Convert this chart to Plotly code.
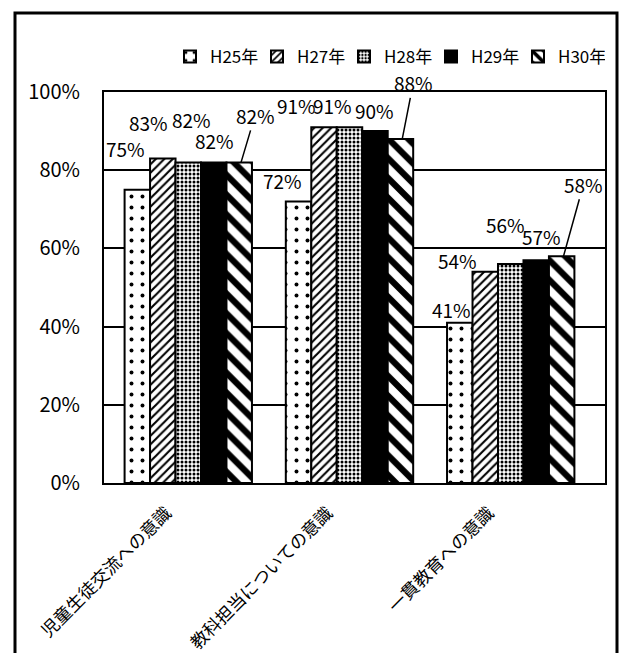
import plotly.graph_objects as go

# ---- data ----
categories = ["児童生徒交流への意識", "教科担当についての意識", "一貫教育への意識"]
years = ["H25年", "H27年", "H28年", "H29年", "H30年"]
h25 = [75, 72, 41]
h27 = [83, 91, 54]
h28 = [82, 91, 56]
h29 = [82, 90, 57]
h30 = [82, 88, 58]
series = [h25, h27, h28, h29, h30]
y_ticks = [0, 20, 40, 60, 80, 100]

# ---- style ----
FONT = "Noto Sans CJK JP"
W, H = 620, 653
ML, MR, MT, MB = 104, 15, 92, 170
BARGAP = 0.21
patterns = [
    dict(shape=".", fgcolor="black", bgcolor="white", size=11, solidity=0.1, fillmode="replace"),
    dict(shape="/", fgcolor="black", bgcolor="white", size=6, solidity=0.35, fillmode="replace"),
    dict(shape=".", fgcolor="black", bgcolor="white", size=4, solidity=0.45, fillmode="replace"),
    dict(shape="", fgcolor="black", bgcolor="black"),
    dict(shape="\\", fgcolor="black", bgcolor="white", size=14, solidity=0.45, fillmode="replace"),
]
fills = ["white", "white", "white", "black", "white"]
# label text offsets (px) relative to bar top, and whether a leader line is drawn
label_dx = [[-10, -13, 3, 0, 14], [-14, -27, -17, -1, 11], [-6, -27, -5, 4, 20]]
label_dy = [[-41, -36, -43, -22, -47], [-21, -22, -22, -21, -56], [-13, -11, -40, -24, -72]]
leader = [False, False, False, False, True]

fig = go.Figure()
for i, (name, vals) in enumerate(zip(years, series)):
    fig.add_trace(go.Bar(
        x=categories, y=vals, name=name,
        marker=dict(color=fills[i], pattern=patterns[i],
                    line=dict(color="black", width=2)),
    ))

plot_w = W - ML - MR
cat_w = plot_w / len(categories)
group_w = cat_w * (1 - BARGAP)
bar_w = group_w / len(years)

annotations = []
for ci, cat in enumerate(categories):
    for si, vals in enumerate(series):
        xshift = (si - (len(years) - 1) / 2) * bar_w
        annotations.append(dict(
            x=cat, y=vals[ci], xref="x", yref="y",
            text=f"{vals[ci]}%", xshift=xshift,
            showarrow=True, arrowhead=0, arrowwidth=1.5,
            arrowcolor="black" if leader[si] else "rgba(0,0,0,0)",
            ax=label_dx[ci][si], ay=label_dy[ci][si],
            font=dict(family=FONT, size=19, color="black"),
            standoff=0, startstandoff=0,
        ))

plot_h = H - MT - MB
fig.update_layout(
    width=W, height=H, autosize=False,
    margin=dict(l=ML, r=MR, t=MT, b=MB, autoexpand=False),
    paper_bgcolor="white", plot_bgcolor="white",
    barmode="group", bargap=BARGAP, bargroupgap=0,
    font=dict(family=FONT, color="black"),
    showlegend=True,
    legend=dict(orientation="h", x=1.0, xanchor="right",
                y=(plot_h - (57 - MT)) / plot_h, yanchor="middle",
                font=dict(family=FONT, size=17, color="black"),
                entrywidth=42, entrywidthmode="pixels",
                bgcolor="rgba(0,0,0,0)", traceorder="normal"),
    annotations=annotations,
    shapes=[dict(type="rect", xref="paper", yref="paper",
                 x0=(15 - ML) / plot_w, x1=(617 - ML) / plot_w,
                 y0=(plot_h - (670 - MT)) / plot_h, y1=(plot_h - (13 - MT)) / plot_h,
                 line=dict(color="black", width=3), layer="below")],
)
fig.update_yaxes(range=[0, 100], tickvals=y_ticks, ticktext=[f"{v}%" for v in y_ticks],
                 showgrid=True, gridcolor="black", gridwidth=2, automargin=False,
                 showline=True, linecolor="black", linewidth=2, mirror=True,
                 ticks="", ticklabelstandoff=18,
                 tickfont=dict(family=FONT, size=20, color="black"), zeroline=False)
fig.update_xaxes(showline=True, linecolor="black", linewidth=2, mirror=True,
                 tickangle=-45, ticks="", ticklabelstandoff=11, ticklabelshift=-22,
                 automargin=False,
                 tickfont=dict(family=FONT, size=17.5, color="black"))

fig.write_html("out.html", config={"displayModeBar": False},
               post_script="document.body.style.margin='0';")
